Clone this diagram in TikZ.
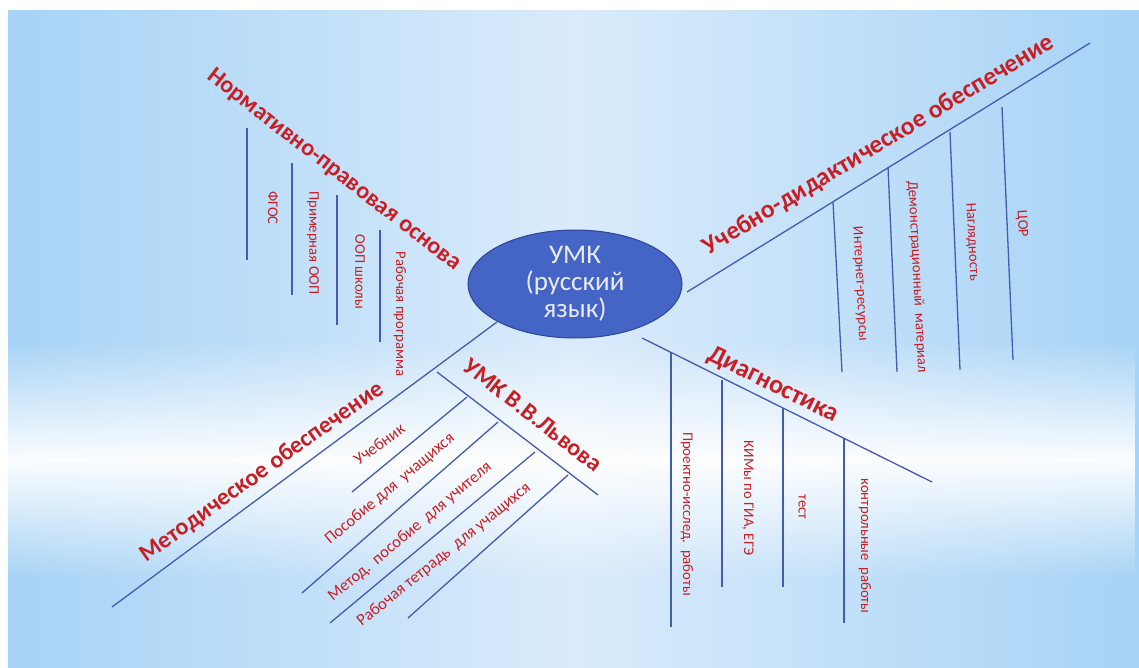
\documentclass[tikz,border=0pt]{standalone}
\usepackage{fontspec}
\setmainfont{Carlito}
\usepackage{xcolor}
\usepackage{tikz}
\usetikzlibrary{shapes.geometric,fadings}

\definecolor{labelred}{RGB}{200,30,36}
\definecolor{branchblue}{RGB}{70,90,176}
\definecolor{umkblue}{RGB}{68,100,198}
\definecolor{umkedge}{RGB}{45,70,150}
\definecolor{bgblue}{RGB}{166,211,246}
\definecolor{bglight}{RGB}{218,235,251}

\tikzfading[name=bandfade, top color=transparent!100, bottom color=transparent!100, middle color=transparent!5]

\begin{document}
\begin{tikzpicture}[x=1pt, y=-1pt,
    branch/.style={draw=branchblue, line width=1.3pt},
    head/.style={text=labelred, font=\fontsize{24}{26}\selectfont\bfseries, inner sep=0pt},
    leaf/.style={text=labelred, font=\fontsize{14.7}{16}\selectfont, inner sep=0pt},
    slant/.style={leaf, font=\fontsize{16.5}{18}\selectfont},
    umk/.style={ellipse, draw=umkedge, line width=1pt, fill=umkblue, text=white!88!umkblue,
      minimum width=214pt, minimum height=108pt, inner sep=0pt, align=center,
      font=\fontsize{27}{27}\selectfont}]
  \useasboundingbox (0,0) rectangle (1139,668);
  \shade[left color=bgblue, right color=bgblue, middle color=bglight] (8,11) rectangle (1139,668);
  \fill[white, path fading=bandfade] (8,340) rectangle (1139,580);

  \node[umk] (umk) at (575,284) {УМК\\(русский\\язык)};

  % Нормативно-правовая основа
  \node[head, rotate=-37.8] (norm) at (334,170) {Нормативно-правовая основа};
  \foreach \i/\x/\ya/\yb in {1/247/128/260, 2/292/163/295, 3/337/195/325, 4/380/230/342}
    \draw[branch] (\x,\ya) coordinate (n\i a) -- (\x,\yb) coordinate (n\i b);
  \foreach \n/\x/\y/\txt in {fgos/273/208/ФГОС, prim/313/243/Примерная ООП,
      oop/360/272/ООП школы, rab/400/314/Рабочая программа}
    \node[leaf, rotate=-90] (\n) at (\x,\y) {\txt};

  % Учебно-дидактическое обеспечение
  \coordinate (ud0) at (687,292);
  \coordinate (ud1) at (1090,43);
  \draw[branch] (ud0) -- (ud1);
  \node[head, font=\fontsize{25.5}{27}\selectfont\bfseries, rotate=31] (uchd) at (879,145) {Учебно-дидактическое обеспечение};
  \foreach \i/\xa/\ya/\xb/\yb in {1/833/202/842/372, 2/888/167/897/372, 3/950/132/960/370, 4/1002/107/1013/360}
    \draw[branch] (\xa,\ya) coordinate (u\i a) -- (\xb,\yb) coordinate (u\i b);
  \foreach \n/\x/\y/\txt in {inet/860/284/Интернет-ресурсы, demo/917/277/{Демонстрационный\ \ материал},
      nagl/972/242/Наглядность, cor/1022/224/ЦОР}
    \node[leaf, rotate=-87] (\n) at (\x,\y) {\txt};

  % Диагностика
  \coordinate (dg0) at (642,338);
  \coordinate (dg1) at (932,482);
  \draw[branch] (dg0) -- (dg1);
  \node[head, font=\fontsize{26}{28}\selectfont\bfseries, rotate=-26.2] (diag) at (773,385) {Диагностика};
  \foreach \i/\x/\ya/\yb in {1/671/352/627, 2/722/380/587, 3/783/408/587, 4/844/438/623}
    \draw[branch] (\x,\ya) coordinate (d\i a) -- (\x,\yb) coordinate (d\i b);
  \foreach \n/\x/\y/\txt in {proj/687/514/Проектно-исслед.\ \ работы, kim/748/498/{КИМы по ГИА, ЕГЭ},
      test/802/507/тест, kontr/865/546/контрольные\ \ работы}
    \node[leaf, rotate=-90] (\n) at (\x,\y) {\txt};

  % Методическое обеспечение
  \coordinate (me0) at (497,322);
  \coordinate (me1) at (112,607);
  \draw[branch] (me0) -- (me1);
  \node[head, rotate=35.5] (meth) at (262,472) {Методическое обеспечение};
  \coordinate (lv0) at (437,372);
  \coordinate (lv1) at (598,495);
  \draw[branch] (lv0) -- (lv1);
  \node[head, rotate=-38] (lvov) at (533,415) {УМК В.В.Львова};
  \foreach \i/\xa/\ya/\xb/\yb in {1/467/397/352/492, 2/498/422/302/593, 3/535/452/330/623, 4/568/475/408/618}
    \draw[branch] (\xa,\ya) coordinate (l\i a) -- (\xb,\yb) coordinate (l\i b);
  \node[slant, rotate=36] (ucheb) at (379,444) {Учебник};
  \node[slant, rotate=40] (posob) at (390,489) {Пособие для\ \ учащихся};
  \node[slant, rotate=40] (metod) at (410,532) {Метод.\ \ пособие\ \ для учителя};
  \node[slant, rotate=39] (tetr) at (444,555) {Рабочая тетрадь\ \ для учащихся};
\end{tikzpicture}
\end{document}
